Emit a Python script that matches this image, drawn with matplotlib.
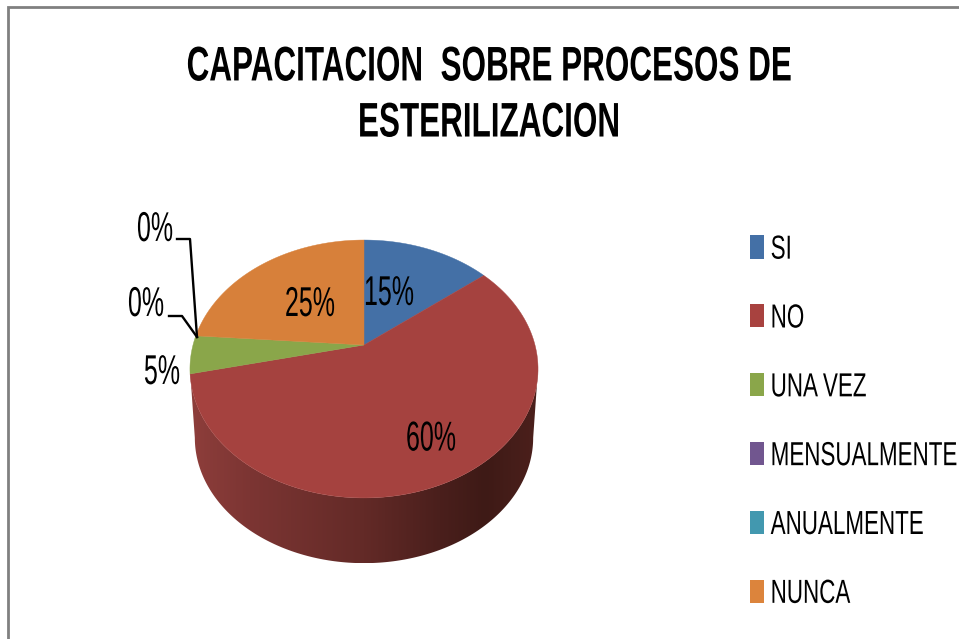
import numpy as np
import matplotlib
matplotlib.use("Agg")
import matplotlib.pyplot as plt
from matplotlib.colors import LinearSegmentedColormap
from matplotlib.patches import Polygon, Patch
from matplotlib.patheffects import AbstractPathEffect
from matplotlib.transforms import Affine2D, Bbox

plt.rcParams['font.family'] = ['Liberation Sans', 'DejaVu Sans']

# Data
categories = ["SI", "NO", "UNA VEZ", "MENSUALMENTE", "ANUALMENTE", "NUNCA"]
values = [15, 60, 5, 0, 0, 25]
pct_labels = ["15%", "60%", "5%", "0%", "0%", "25%"]
title = "CAPACITACION  SOBRE PROCESOS DE\nESTERILIZACION"
colors = ["#4470A6", "#A5423F", "#8AA64A", "#71568F", "#4298AF", "#D7803A"]
legend_colors = ["#4470A6", "#A8423F", "#8AA64A", "#71568F", "#4298AF", "#DC843C"]

W, H = 959, 639
fig = plt.figure(figsize=(W / 100, H / 100), dpi=100, facecolor="white")


class Squeeze(AbstractPathEffect):
    """Narrow a text horizontally about a display-space x (or its own origin)."""

    def __init__(self, sx, anchor=None):
        super().__init__()
        self.sx, self.anchor = sx, anchor

    def draw_path(self, renderer, gc, tpath, affine, rgbFace=None):
        a = self.anchor if self.anchor is not None else affine.get_matrix()[0, 2]
        squeezed = affine + Affine2D().translate(-a, 0).scale(self.sx, 1).translate(a, 0)
        renderer.draw_path(gc, tpath, squeezed, rgbFace)


def squeeze(text, sx, anchor=None):
    text.set_path_effects([Squeeze(sx, anchor)])
    original = text.get_window_extent

    def extent(renderer=None, dpi=None):
        bb = original(renderer, dpi)
        a = anchor if anchor is not None else bb.x0
        return Bbox([[a + sx * (bb.x0 - a), bb.y0], [a + sx * (bb.x1 - a), bb.y1]])

    text.get_window_extent = extent
    return text


# Hidden unit pie: supplies the wedge angles
pie_ax = fig.add_axes([0, 0, 0.01, 0.01])
wedges, _ = pie_ax.pie(values, startangle=90, counterclock=False, colors=colors)
pie_ax.set_visible(False)

# Pixel-space canvas
ax = fig.add_axes([0, 0, 1, 1])
ax.set_xlim(0, W)
ax.set_ylim(H, 0)
ax.axis("off")

CX, CY, A, B, K = 364.0, 345.0, 171.0, 124.5, 0.186


def project(theta_deg, scale=1.0, dy=0.0):
    t = np.radians(theta_deg)
    u, v = np.cos(t), np.sin(t)
    d = 1 + K * v
    return CX + scale * A * u / d, CY + dy - scale * B * v / d


# Side wall of the disc with a horizontal shading, between the widest points
widest = np.degrees(np.arcsin(K))
front = np.linspace(180 + widest, 360 - widest, 200)
x_top, y_top = project(front)
x_bot, y_bot = project(front, scale=0.972, dy=69.5)
wall = np.column_stack([np.r_[x_top, x_bot[::-1]], np.r_[y_top, y_bot[::-1]]])
wall_patch = Polygon(wall, closed=True, fc="none", ec="none", transform=ax.transData)
ax.add_patch(wall_patch)
shade = LinearSegmentedColormap.from_list(
    "wall",
    [(0.0, "#8E3E3B"), (0.17, "#7C3533"), (0.5, "#632A27"),
     (0.72, "#4A1F1C"), (0.85, "#3E1A16"), (1.0, "#4C201C")],
)
img = ax.imshow(np.linspace(0, 1, 256)[None, :], cmap=shade, aspect="auto",
                extent=[190, 538, 563, 340], zorder=1)
img.set_clip_path(wall_patch)
ax.set_xlim(0, W)
ax.set_ylim(H, 0)

# Top face
for w, c in zip(wedges, colors):
    if w.theta2 - w.theta1 <= 0:
        continue
    th = np.linspace(w.theta1, w.theta2, 120)
    xs, ys = project(th)
    ax.add_patch(Polygon(np.column_stack([np.r_[CX, xs], np.r_[CY, ys]]),
                         closed=True, fc=c, ec=c, lw=0.3, zorder=2))

# Percent labels
label_pos = [(389, 294), (431, 439.5), (162, 373), (155, 230), (146, 305), (310, 305)]
for s, (x, y) in zip(pct_labels, label_pos):
    t = ax.text(x, y, s, fontsize=30, ha="center", va="center", color="black", zorder=4)
    squeeze(t, 0.6, x)

# Leader lines
ax.plot([177, 190, 197], [239, 239, 337], color="black", lw=1.7, zorder=3)
ax.plot([169, 182, 197], [316, 316, 337], color="black", lw=1.7, zorder=3)

# Title
t = ax.text(489, 96, title, fontsize=35, fontweight="bold", ha="center", va="center",
            linespacing=1.316, color="black")
squeeze(t, 0.647, 489)

# Legend
handles = [Patch(fc=c, ec="none", label=l) for c, l in zip(legend_colors, categories)]
fs = 24
px = fs * 100 / 72
leg = ax.legend(handles=handles, loc="upper left", bbox_to_anchor=(743 / W, 1 - 228 / H),
                fontsize=fs, frameon=False, handlelength=14 / px, handleheight=23 / px,
                handletextpad=7 / px, labelspacing=(69.5 - px * 0.95) / px,
                borderpad=0.2, borderaxespad=0)
for t in leg.get_texts():
    squeeze(t, 0.672)

# Outer frame
ax.plot([8, 8, W], [H, 6.5, 6.5], color="#808080", lw=2.0, solid_joinstyle="miter", zorder=5)

fig.savefig("out.png", dpi=100, facecolor="white")
